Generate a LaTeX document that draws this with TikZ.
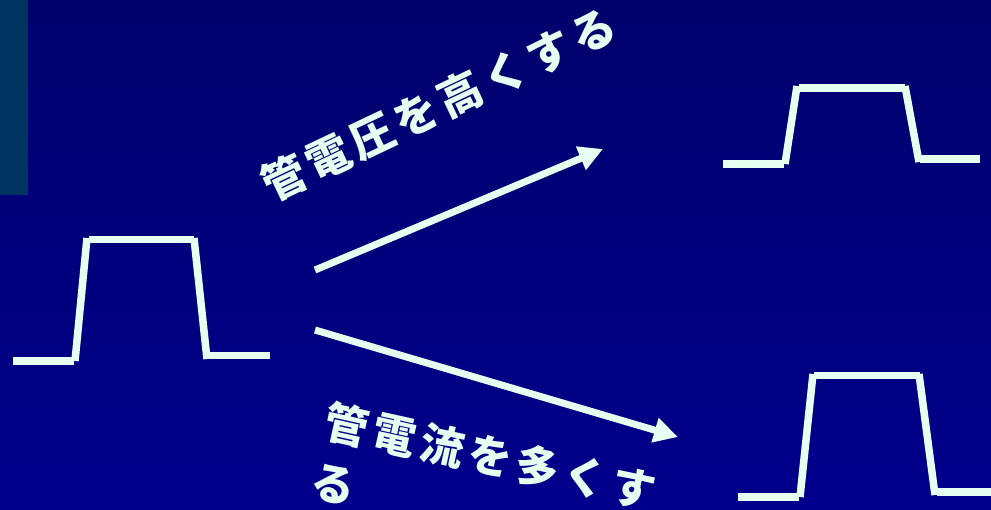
\documentclass[tikz,border=0pt]{standalone}
\usepackage{fontspec}
\newfontfamily\jp{Noto Sans CJK JP}[LetterSpace=11]
\usetikzlibrary{arrows.meta}
\definecolor{bgtop}{RGB}{0,0,108}
\definecolor{bgbot}{RGB}{0,0,140}
\definecolor{sidebar}{RGB}{0,52,96}
\definecolor{mint}{RGB}{230,255,240}
\begin{document}
\begin{tikzpicture}[x=1pt,y=-1pt,
  pulse/.style={draw=mint, line width=7.5pt, line cap=butt},
  arr/.style={draw=mint, line width=7pt, -{Triangle[length=24pt,width=24pt]}},
  lab/.style={text=mint, font=\jp\bfseries\fontsize{44}{61}\selectfont, inner sep=0pt}]
\useasboundingbox (0,0) rectangle (991,509);
\shade[top color=bgtop, bottom color=bgbot] (0,0) rectangle (991,509);
\fill[sidebar] (0,0) rectangle (28,195);
% left pulse
\draw[pulse] (13,361)--(74,361);
\draw[pulse] (75,361)--(87,238);
\draw[pulse] (89,239.5)--(194,239.5);
\draw[pulse] (194,238)--(207,359);
\draw[pulse] (210,355.5)--(270,355.5);
% top right pulse
\draw[pulse] (723,164)--(784,164);
\draw[pulse] (785,164)--(797,86);
\draw[pulse] (799,88)--(905,88);
\draw[pulse] (905,86)--(919,162);
\draw[pulse] (920,159)--(980,159);
% bottom right pulse
\draw[pulse] (738,497)--(799,497);
\draw[pulse] (800,497)--(813,374);
\draw[pulse] (814,375.5)--(920,375.5);
\draw[pulse] (919,374)--(935,495);
\draw[pulse] (937,492)--(991,492);
% arrows
\coordinate (a1s) at (315,270);
\coordinate (a1e) at (603,149);
\coordinate (a2s) at (315,330);
\coordinate (a2e) at (678,437);
\draw[arr] (a1s) -- (a1e);
\draw[arr] (a2s) -- (a2e);
% labels
\node[lab, rotate=25.4] (t1) at (438.5,104) {管電圧を高くする};
\node[lab, rotate=-12.4, anchor=north west, align=left] (t2) at (330,399) {管電流を多くす\\る};
\end{tikzpicture}
\end{document}
